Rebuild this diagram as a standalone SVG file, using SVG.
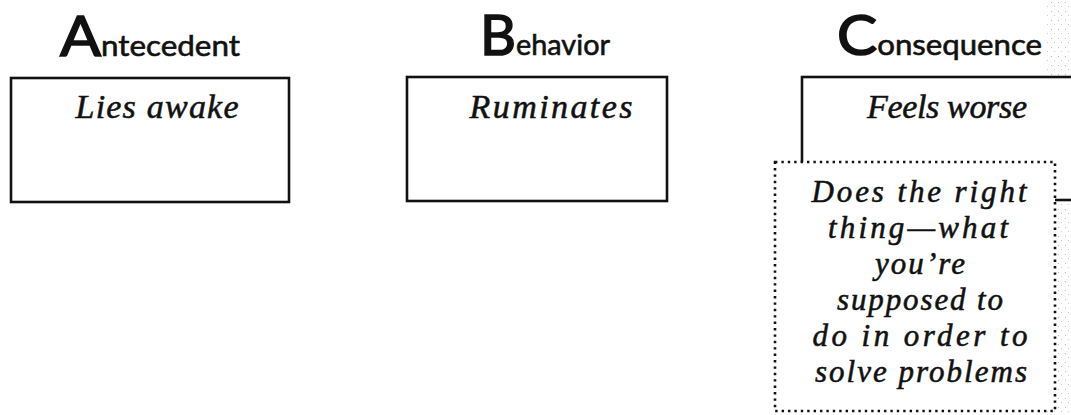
<svg xmlns="http://www.w3.org/2000/svg" width="1071" height="415" viewBox="0 0 1071 415">
  <style>
    .hd { font-family: Lato, "Liberation Sans", sans-serif; fill: #111; stroke: #111; }
    .cap { font-size: 56px; stroke-width: 1.6; }
    .low { font-size: 29px; stroke-width: 0.6; }
    .box { fill: #fff; stroke: #111; stroke-width: 2.6; }
    .dot { fill: #fff; stroke: #111; stroke-width: 2.6; stroke-dasharray: 2.4 4; }
    .scr { font-family: "Liberation Serif", "DejaVu Serif", serif; font-style: italic; font-size: 34px; fill: #111; stroke: #111; stroke-width: 0.55; text-anchor: middle; }
    .sm { font-size: 31px; }
  </style>
  <defs>
    <pattern id="stip" width="7" height="9" patternUnits="userSpaceOnUse">
      <rect x="1" y="2" width="1" height="1" fill="#888"/>
      <rect x="4" y="6" width="1" height="1" fill="#aaa"/>
    </pattern>
  </defs>
  <rect width="1071" height="415" fill="#fff"/>
  <rect x="1046" y="0" width="25" height="415" fill="url(#stip)" opacity="0.6"/>

  <g id="header-a">
    <text class="hd" x="60" y="56" textLength="180" lengthAdjust="spacingAndGlyphs"><tspan class="cap">A</tspan><tspan class="low">ntecedent</tspan></text>
  </g>
  <g id="header-b">
    <text class="hd" x="480" y="55" textLength="130" lengthAdjust="spacingAndGlyphs"><tspan class="cap">B</tspan><tspan class="low">ehavior</tspan></text>
  </g>
  <g id="header-c">
    <text class="hd" x="837" y="55" textLength="205" lengthAdjust="spacingAndGlyphs"><tspan class="cap">C</tspan><tspan class="low">onsequence</tspan></text>
  </g>

  <g id="node-antecedent">
    <rect class="box" x="11" y="78" width="278" height="124"/>
    <text class="scr" x="157" y="118" textLength="163">Lies awake</text>
  </g>
  <g id="node-behavior">
    <rect class="box" x="407" y="77" width="260" height="124"/>
    <text class="scr" x="551" y="118" textLength="163">Ruminates</text>
  </g>
  <g id="node-consequence">
    <rect class="box" x="802" y="77" width="280" height="123"/>
    <text class="scr" x="947" y="118" textLength="160">Feels worse</text>
  </g>
  <g id="node-alternative">
    <rect class="dot" x="775" y="162" width="280" height="249"/>
    <text class="scr sm" x="919" y="202" textLength="215">Does the right</text>
    <text class="scr sm" x="918" y="238" textLength="180">thing—what</text>
    <text class="scr sm" x="920" y="274" textLength="90">you’re</text>
    <text class="scr sm" x="920" y="310" textLength="166">supposed to</text>
    <text class="scr sm" x="920" y="346" textLength="215">do in order to</text>
    <text class="scr sm" x="921" y="382" textLength="212">solve problems</text>
  </g>
  <g id="connectors"/>
</svg>
